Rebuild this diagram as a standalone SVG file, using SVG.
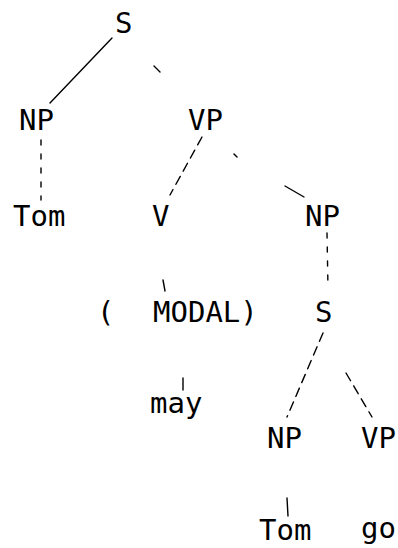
<svg xmlns="http://www.w3.org/2000/svg" width="398" height="548" viewBox="0 0 398 548">
<style>
text{font-family:"DejaVu Sans Mono","Liberation Mono",monospace;font-size:29px;fill:#000;letter-spacing:0}
.e{stroke:#000;stroke-width:1.4;fill:none;stroke-linecap:round}
.d{stroke-dasharray:9 6}
.f{stroke-dasharray:5 9}
</style>
<rect width="398" height="548" fill="#fff"/>
<g id="connectors">
<line class="e" x1="112" y1="38" x2="50" y2="103"/>
<line class="e" x1="154" y1="66" x2="160" y2="72"/>
<line class="e f" x1="41" y1="140" x2="41" y2="200"/>
<line class="e d" x1="202" y1="137" x2="170" y2="195"/>
<line class="e" x1="234" y1="154" x2="237" y2="157"/>
<line class="e" x1="285" y1="186" x2="304" y2="197"/>
<line class="e" x1="163" y1="280" x2="165" y2="291"/>
<line class="e" x1="183" y1="378" x2="183" y2="390"/>
<line class="e f" x1="327" y1="233" x2="328" y2="288"/>
<line class="e d" x1="323" y1="333" x2="287" y2="417"/>
<line class="e d" x1="346" y1="373" x2="372" y2="417"/>
<line class="e" x1="287" y1="498" x2="288" y2="516"/>
</g>
<g id="n-S"><text x="115" y="33">S</text></g>
<g id="n-NP1"><text x="19" y="130">NP</text></g>
<g id="n-VP1"><text x="188" y="130">VP</text></g>
<g id="n-Tom1"><text x="13" y="226">Tom</text></g>
<g id="n-V"><text x="152" y="226">V</text></g>
<g id="n-NP2"><text x="305" y="226">NP</text></g>
<g id="n-MODAL"><text y="322"><tspan x="97">(</tspan><tspan x="153">MODAL)</tspan></text></g>
<g id="n-S2"><text x="315" y="322">S</text></g>
<g id="n-may"><text x="150" y="413">may</text></g>
<g id="n-NP3"><text x="267" y="448">NP</text></g>
<g id="n-VP2"><text x="361" y="448">VP</text></g>
<g id="n-Tom2"><text x="259" y="540">Tom</text></g>
<g id="n-go"><text x="361" y="538">go</text></g>
</svg>
